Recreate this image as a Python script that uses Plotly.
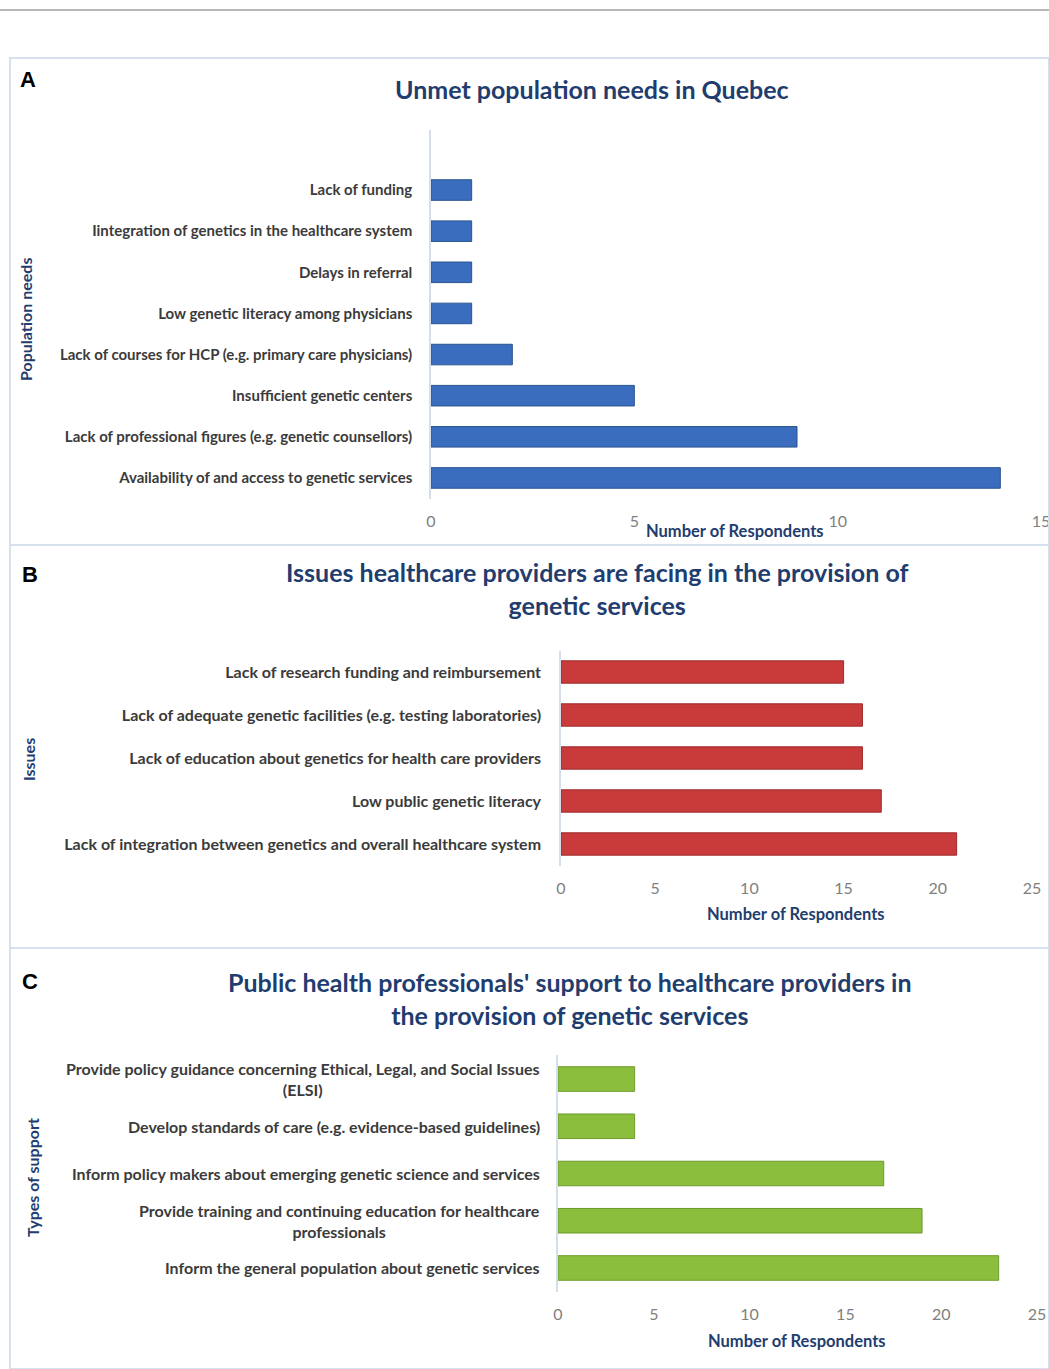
import plotly.graph_objects as go

W, H = 1049, 1369

# ---------- data ----------
titles = ["Unmet population needs in Quebec",
          "Issues healthcare providers are facing in the provision of<br>genetic services",
          "Public health professionals' support to healthcare providers in<br>the provision of genetic services"]
ytitles = ["Population needs", "Issues", "Types of support"]
panel_letters = ["A", "B", "C"]
xtitle = "Number of Respondents"

needs = ["Lack of funding",
         "Iintegration of genetics in the healthcare system",
         "Delays in referral",
         "Low genetic literacy among physicians",
         "Lack of courses for HCP (e.g. primary care physicians)",
         "Insufficient genetic centers",
         "Lack of professional figures (e.g. genetic counsellors)",
         "Availability of and access to genetic services"]
needs_vals = [1, 1, 1, 1, 2, 5, 9, 14]

issues = ["Lack of research funding and reimbursement",
          "Lack of adequate genetic facilities (e.g. testing laboratories)",
          "Lack of education about genetics for health care providers",
          "Low public genetic literacy",
          "Lack of integration between genetics and overall healthcare system"]
issues_vals = [15, 16, 16, 17, 21]

support = ["Provide policy guidance concerning Ethical, Legal, and Social Issues<br>(ELSI)",
           "Develop standards of care (e.g. evidence-based guidelines)",
           "Inform policy makers about emerging genetic science and services",
           "Provide training and continuing education for healthcare<br>professionals",
           "Inform the general population about genetic services"]
support_vals = [4, 4, 17, 19, 23]

x_ticks_a = [0, 5, 10, 15]
x_ticks_bc = [0, 5, 10, 15, 20, 25]

# ---------- helpers ----------
def px(x):
    return x / W

def py(y):
    return 1 - y / H

FONT = "Lato"
NAVY = "#1F3D6E"
LABEL = "#3B3B3B"
TICK = "#7F7F7F"

fig = go.Figure()

fig.add_trace(go.Bar(x=needs_vals, y=needs, orientation="h", width=0.5,
                     marker=dict(color="#3A6DBE", line=dict(color="#2B558F", width=1)),
                     xaxis="x", yaxis="y", showlegend=False))
fig.add_trace(go.Bar(x=issues_vals, y=issues, orientation="h", width=0.52,
                     marker=dict(color="#C93A3A", line=dict(color="#9E2B2B", width=1)),
                     xaxis="x2", yaxis="y2", showlegend=False))
fig.add_trace(go.Bar(x=support_vals, y=support, orientation="h", width=0.52,
                     marker=dict(color="#8CBE3E", line=dict(color="#6E9A2E", width=1)),
                     xaxis="x3", yaxis="y3", showlegend=False))

axis_common = dict(showgrid=False, zeroline=False, fixedrange=True, automargin=False)
tickfont = dict(family=FONT, size=16, color=TICK)
catfont_a = dict(family=FONT, size=15, color=LABEL, weight="bold")
catfont_bc = dict(family=FONT, size=16, color=LABEL, weight="bold")

fig.update_layout(
    width=W, height=H, autosize=False,
    margin=dict(l=0, r=0, t=0, b=0, pad=0, autoexpand=False),
    paper_bgcolor="white", plot_bgcolor="rgba(0,0,0,0)",
    font=dict(family=FONT),
    xaxis=dict(domain=[px(431), px(1041)], range=[0, 15], tickvals=x_ticks_a,
               anchor="free", position=py(510), showline=False, ticks="",
               ticklabeloverflow="allow",
               tickfont=tickfont, **axis_common),
    yaxis=dict(domain=[py(498.5), py(130)], range=[7.5, -1.46], anchor="x",
               showline=True, linecolor="#D5DEEA", linewidth=1.5, ticks="",
               ticklabelstandoff=14, tickfont=catfont_a, **axis_common),
    xaxis2=dict(domain=[px(561), px(1032)], range=[0, 25], tickvals=x_ticks_bc,
                anchor="free", position=py(877), showline=False, ticks="",
                ticklabeloverflow="allow",
                tickfont=tickfont, **axis_common),
    yaxis2=dict(domain=[py(865.5), py(650.5)], range=[4.5, -0.5], anchor="x2",
                showline=True, linecolor="#D5DEEA", linewidth=1.5, ticks="",
                ticklabelstandoff=15, tickfont=catfont_bc, **axis_common),
    xaxis3=dict(domain=[px(558), px(1037)], range=[0, 25], tickvals=x_ticks_bc,
                anchor="free", position=py(1303), showline=False, ticks="",
                ticklabeloverflow="allow",
                tickfont=tickfont, **axis_common),
    yaxis3=dict(domain=[py(1291.6), py(1055.4)], range=[4.5, -0.5], anchor="x3",
                showline=True, linecolor="#D5DEEA", linewidth=1.5, ticks="",
                showticklabels=False, **axis_common),
)

# category labels for panel C (centered multi-line)
for cat in support:
    fig.add_annotation(x=px(542), xref="paper", y=cat, yref="y3",
                       text=cat, showarrow=False, xanchor="right", align="center",
                       font=catfont_bc)

# frames
shapes = [
    dict(type="line", x0=0, x1=1, y0=py(10), y1=py(10), xref="paper", yref="paper",
         line=dict(color="#A0A0A0", width=1.5)),
]
for (t, b) in [(58, 545), (545, 948), (948, 1369)]:
    shapes.append(dict(type="rect", xref="paper", yref="paper",
                       x0=px(10), x1=px(1049), y0=py(b), y1=py(t),
                       line=dict(color="#D6E0EE", width=2), fillcolor="rgba(0,0,0,0)"))
fig.update_layout(shapes=shapes)

# titles
title_pos = [(592, 89), (597, 588), (570, 998)]
for t, (x, y) in zip(titles, title_pos):
    fig.add_annotation(x=px(x), y=py(y), xref="paper", yref="paper", text="<b>%s</b>" % t,
                       showarrow=False, xanchor="center", yanchor="middle", align="center",
                       font=dict(family=FONT, size=25, color=NAVY))

# panel letters
for L, (x, y) in zip(panel_letters, [(18, 80), (20, 574), (20, 981)]):
    fig.add_annotation(x=px(x), y=py(y), xref="paper", yref="paper", text="<b>%s</b>" % L,
                       showarrow=False, xanchor="left", yanchor="middle",
                       font=dict(family="Liberation Sans", size=22, color="black"))

# y axis titles
for t, (x, y) in zip(ytitles, [(25, 320), (28, 760), (32, 1178)]):
    fig.add_annotation(x=px(x), y=py(y), xref="paper", yref="paper", text="<b>%s</b>" % t,
                       showarrow=False, textangle=-90, xanchor="center", yanchor="middle",
                       font=dict(family=FONT, size=16, color=NAVY))

# x axis titles
for (x, y) in [(735, 531), (796, 914), (797, 1341)]:
    fig.add_annotation(x=px(x), y=py(y), xref="paper", yref="paper", text="<b>%s</b>" % xtitle,
                       showarrow=False, xanchor="center", yanchor="middle",
                       font=dict(family=FONT, size=16.5, color=NAVY))

fig.write_html("out.html",
               config={"displayModeBar": False, "responsive": False},
               post_script="document.documentElement.style.overflow='hidden';"
                           "document.body.style.margin='0';document.body.style.overflow='hidden';")
